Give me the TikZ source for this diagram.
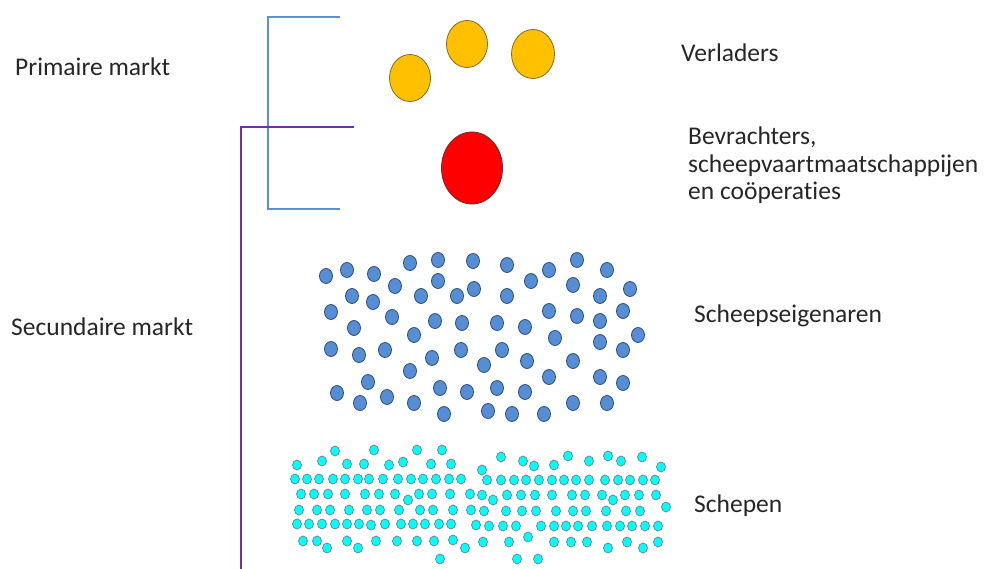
\documentclass[tikz,border=0pt]{standalone}
\usepackage{fontspec}
\setmainfont[Ligatures=NoCommon]{Carlito}
\usetikzlibrary{shapes.geometric}
\definecolor{goldfill}{HTML}{FFC000}
\definecolor{goldline}{HTML}{7F6A2A}
\definecolor{redfill}{HTML}{FF0000}
\definecolor{redline}{HTML}{6B2A2A}
\definecolor{ownerfill}{HTML}{558ED5}
\definecolor{ownerline}{HTML}{2F4E78}
\definecolor{shipfill}{HTML}{00FFFF}
\definecolor{shipline}{HTML}{6F7F80}
\definecolor{primline}{HTML}{5B8FD8}
\definecolor{secline}{HTML}{7030A0}
\tikzset{
  label/.style={anchor=base west, inner sep=0pt, font=\fontsize{25.5}{27.5}\selectfont, text=black!85},
  shipper/.style={ellipse, draw=goldline, fill=goldfill, line width=0.8pt, inner sep=0pt, minimum width=41pt, minimum height=47pt},
  charterer/.style={ellipse, draw=redline, fill=redfill, line width=0.8pt, inner sep=0pt, minimum width=61pt, minimum height=72pt},
  owner/.style={ellipse, draw=ownerline, fill=ownerfill, line width=0.8pt, inner sep=0pt, minimum width=13pt, minimum height=15pt},
  ship/.style={ellipse, draw=shipline, fill=shipfill, line width=0.7pt, inner sep=0pt, minimum width=9pt, minimum height=10pt},
  bracketline/.style={line width=2pt},
}
\begin{document}
\begin{tikzpicture}[x=1pt,y=-1pt]
\useasboundingbox (0,0) rectangle (984,569);
\fill[white] (0,0) rectangle (984,569);

% market brackets
\coordinate (pt) at (340,17);
\coordinate (ptc) at (268,17);
\coordinate (pbc) at (268,209);
\coordinate (pb) at (340,209);
\draw[bracketline, primline] (pt) -- (ptc) -- (pbc) -- (pb);
\coordinate (st) at (354,127);
\coordinate (stc) at (241,127);
\coordinate (sb) at (241,572);
\draw[bracketline, secline] (st) -- (stc) -- (sb);

% shippers and charterer
\node[shipper] (y1) at (410,78) {};
\node[shipper] (y2) at (467,44) {};
\node[shipper, minimum width=43pt, minimum height=49pt] (y3) at (533,54) {};
\node[charterer] (r1) at (472,168) {};

% ship owners
\foreach [count=\i] \x/\y in {
  326/276, 347/270, 374/274, 410/263, 438/260, 473/261, 507/265, 549/270, 577/260, 607/270,
  395/286, 438/281, 474/289, 531/281, 573/285, 630/289,
  352/296, 373/302, 421/296, 457/296, 507/296, 600/296,
  331/312, 392/317, 435/321, 462/323, 497/323, 525/327, 549/311, 577/316, 600/321, 623/311,
  354/328, 414/335, 555/338, 638/335, 600/342,
  331/349, 359/355, 385/350, 461/350, 502/350, 623/350, 432/358, 484/365, 527/361, 573/361,
  410/371, 368/382, 549/377, 600/377, 623/383,
  337/393, 440/388, 467/392, 497/388, 525/392,
  360/403, 387/397, 414/403, 573/403, 607/403,
  444/414, 488/411, 512/414, 544/414}
  \node[owner] (b\i) at (\x,\y) {};

% ships
\foreach [count=\i] \x/\y in {
  335/451, 374/450, 417/450, 442/450,
  297/465, 322/461, 347/464, 364/464, 389/465, 403/462, 431/464, 451/464,
  501/457, 523/461, 534/466, 554/465, 568/456, 589/461, 608/456, 621/461, 642/457, 661/467, 482/470,
  295/479, 307/479, 319/479, 333/479, 345/479, 358/479, 369/479, 383/479, 398/479, 411/479, 423/479, 436/479, 449/479, 461/479,
  487/480, 501/480, 514/480, 526/480, 539/480, 552/480, 564/480, 576/480, 589/480, 605/480, 618/480, 630/480, 643/480, 655/480,
  301/494, 314/494, 328/494, 345/494, 365/494, 379/494, 395/494, 419/494, 432/494, 450/494, 470/494,
  408/500, 482/495, 493/500, 507/495, 521/495, 535/495, 552/495, 572/495, 585/495, 602/495, 613/500, 625/495, 639/495, 656/495,
  299/510, 317/510, 330/510, 349/510, 367/510, 380/510, 399/510, 420/510, 433/510, 453/510, 471/510,
  484/511, 506/511, 522/511, 536/511, 556/511, 573/511, 586/511, 606/511, 626/511, 640/511, 666/507,
  297/524, 309/524, 322/524, 335/524, 347/524, 359/524, 371/525, 385/524, 401/524, 413/524, 425/524, 439/524, 451/524,
  476/525, 489/526, 503/526, 516/526, 541/526, 554/526, 566/526, 578/526, 592/526, 607/526, 620/526, 632/526, 645/526, 658/526,
  303/541, 317/541, 347/541, 376/541, 397/541, 417/541, 434/541, 453/540, 327/548, 358/548, 465/548,
  483/542, 509/542, 528/537, 554/542, 571/542, 587/542, 608/548, 627/542, 643/548, 658/542,
  440/559, 517/559, 538/559}
  \node[ship] (s\i) at (\x,\y) {};

% labels
\node[label] (lprim) at (15,76) {Primaire markt};
\node[label] (lsec) at (11,335) {Secundaire markt};
\node[label] (lverl) at (681,62) {Verladers};
\node[label, align=left] (lbevr) at (688,200) {Bevrachters,\\scheepvaartmaatschappijen\\en coöperaties};
\node[label] (leig) at (694,322) {Scheepseigenaren};
\node[label] (lschep) at (694,512) {Schepen};
\end{tikzpicture}
\end{document}
